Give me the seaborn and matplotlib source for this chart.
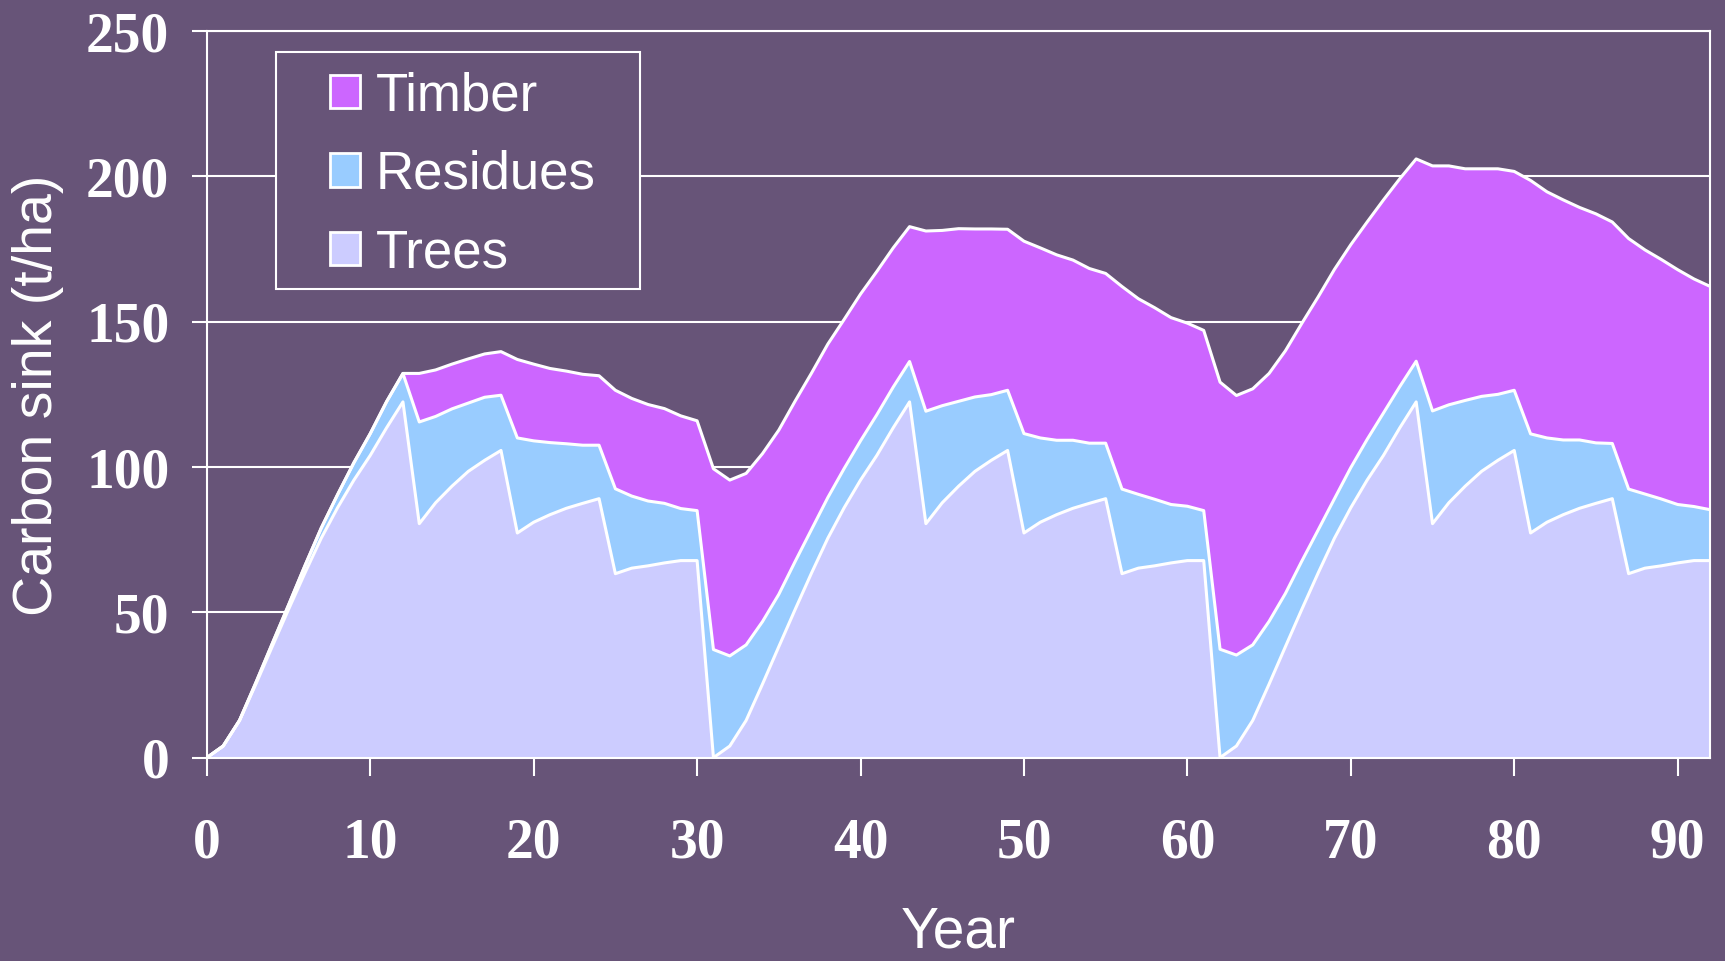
# carbon sink stacked area chart - trees / residues / timber over 3 rotations
import matplotlib
matplotlib.use("Agg")
import matplotlib.pyplot as plt
from matplotlib.patches import Patch, Rectangle
import seaborn as sns
import numpy as np
import pandas as pd

# years 0..92
years = list(range(0, 93))

# carbon in standing trees (t/ha)
trees = [0, 4, 12.8, 25.3, 38.2, 51, 63.5, 75.5, 86, 95.5, 104, 113.5, 122.4,
         80.5, 87.7, 93.4, 98.5, 102.3, 105.7, 77.3, 81, 83.6, 85.8, 87.5, 89.1,
         63.3, 65.2, 66, 67, 67.8, 67.8,
         0, 4, 12.8, 25.3, 38.2, 51, 63.5, 75.5, 86, 95.5, 104, 113.5, 122.4,
         80.5, 87.7, 93.4, 98.5, 102.3, 105.7, 77.3, 81, 83.6, 85.8, 87.5, 89.1,
         63.3, 65.2, 66, 67, 67.8, 67.8,
         0, 4, 12.8, 25.3, 38.2, 51, 63.5, 75.5, 86, 95.5, 104, 113.5, 122.4,
         80.5, 87.7, 93.4, 98.5, 102.3, 105.7, 77.3, 81, 83.6, 85.8, 87.5, 89.1,
         63.3, 65.2, 66, 67, 67.8, 67.8]

# carbon in residues (layer thickness)
residues = [0, 0, 0, 0.5, 1, 1.5, 2.5, 3.5, 4.5, 6, 7.5, 9, 9.8,
            35, 29.7, 26.6, 23.5, 21.7, 19, 32.7, 28, 24.8, 22.2, 20, 18.4,
            29.2, 24.8, 22.3, 20.5, 17.9, 17.2,
            37.2, 31, 26, 21.5, 18, 16.5, 15, 14, 13.5, 13.5, 14, 14, 13.9,
            38.7, 33.4, 29.2, 25.6, 22.6, 20.7, 34.2, 29, 25.6, 23.4, 20.7, 19.1,
            29.1, 25.4, 22.9, 20.1, 18.7, 17.2,
            37.3, 31.3, 26, 21.6, 18.3, 16.6, 14.8, 13.6, 13.8, 14, 14.6, 14.2, 14,
            38.8, 33.7, 29.5, 25.8, 22.7, 20.7, 34.1, 29, 25.7, 23.5, 20.8, 19,
            29.1, 25.5, 23, 20.1, 18.6, 17.5]

# carbon stored in harvested timber (layer thickness)
timber = [0, 0, 0, 0, 0, 0, 0, 0, 0, 0, 0, 0, 0,
          16.7, 16, 15.4, 15.2, 14.9, 15, 27, 26.4, 25.5, 25, 24.4, 23.9,
          33.9, 33.6, 33.2, 32.6, 31.9, 30.9,
          62.2, 60.5, 59, 57.8, 56.5, 55.2, 53.8, 52.8, 51.3, 50.5, 49.3, 47.9, 46.4,
          62, 60.3, 59.4, 57.8, 57, 55.4, 66.2, 65.4, 63.8, 62, 60.1, 58.4,
          69.7, 67.3, 65.9, 64.3, 63, 62,
          91.9, 89.3, 88.1, 85.3, 83.5, 81.8, 80.2, 78.9, 76.7, 74.8, 73.3, 71.5, 69.6,
          84.3, 82.2, 79.7, 78.3, 77.6, 75.3, 87.2, 84.7, 82.6, 80, 78.8, 76.2,
          86.2, 84, 82.4, 80.8, 78.3, 76.8]

layer_names = ["Trees", "Residues", "Timber"]
layer_colors = ["#CCCCFF", "#99CCFF", "#CC66FF"]
xticks = list(range(0, 100, 10))
yticks = list(range(0, 300, 50))

bg = "#675478"

sns.set_theme(style="white", rc={"axes.facecolor": bg, "figure.facecolor": bg})
plt.rcParams['font.family'] = ['Liberation Sans', 'DejaVu Sans']

# cumulative tops of each layer
df = pd.DataFrame({"Year": years, "Trees": trees, "Residues": residues, "Timber": timber})
df["Trees_top"] = df["Trees"]
df["Residues_top"] = df["Trees_top"] + df["Residues"]
df["Timber_top"] = df["Residues_top"] + df["Timber"]

fig = plt.figure(figsize=(17.25, 9.61), dpi=100)
ax = fig.add_axes([0.1199, 0.2116, 0.8716, 0.7561])

lower = np.zeros(len(years))
for name, col in zip(layer_names, layer_colors):
    upper = df[name + "_top"].values
    ax.fill_between(df["Year"], lower, upper, color=col, lw=0, zorder=2)
    lower = upper

# white boundaries between the layers
long = df.melt(id_vars="Year", value_vars=["Trees_top", "Residues_top", "Timber_top"],
               var_name="Layer", value_name="Top")
sns.lineplot(data=long, x="Year", y="Top", units="Layer", estimator=None,
             color="white", lw=2.2, legend=False, ax=ax, zorder=3)

ax.set_xlim(0, 92)
ax.set_ylim(0, 250)
ax.set_xticks(xticks, labels=[str(v) for v in xticks], fontfamily="Liberation Serif",
              fontweight="bold", fontsize=40, color="white")
ax.set_yticks(yticks, labels=[str(v) for v in yticks], fontfamily="Liberation Serif",
              fontweight="bold", fontsize=40, color="white")
ax.tick_params(axis="x", direction="out", length=13, width=1.5, color="white", pad=30,
               bottom=True)
ax.tick_params(axis="y", direction="out", length=11, width=1.5, color="white", pad=16,
               left=True)
ax.yaxis.grid(True, color="white", lw=1.5)
ax.xaxis.grid(False)
ax.set_axisbelow(True)
for s in ax.spines.values():
    s.set_color("white")
    s.set_linewidth(1.5)
    s.set_visible(True)
ax.set_xlabel("")
ax.set_ylabel("")

fig.text(0.0223, 0.589, "Carbon sink (t/ha)", rotation=90, ha="center", va="center",
         fontsize=40, color="white")
fig.text(0.5557, 0.014, "Year", ha="center", va="baseline", fontsize=41, color="white")

# legend: frame drawn separately (opaque, hides the gridline), entries in reverse stacking order
ax.add_patch(Rectangle((0.046, 0.645), 0.242, 0.326, transform=ax.transAxes,
                       facecolor=bg, edgecolor="white", lw=1.5, zorder=5))
handles = [Patch(facecolor=c, edgecolor="white", lw=2, label=n)
           for n, c in zip(layer_names[::-1], layer_colors[::-1])]
leg = ax.legend(handles=handles, loc="upper left", bbox_to_anchor=(0.082, 0.945),
                frameon=False, borderpad=0, fontsize=38, labelcolor="white",
                handlelength=0.57, handleheight=0.6, handletextpad=0.3,
                labelspacing=0.54, borderaxespad=0)
leg.set_zorder(6)

fig.savefig("out.png", dpi=100, facecolor=bg)
